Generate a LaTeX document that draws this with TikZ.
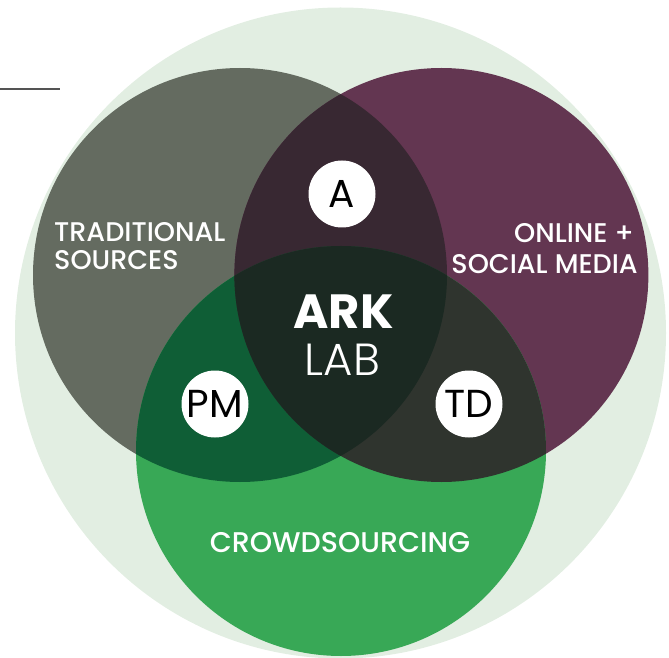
\documentclass[tikz,border=0pt]{standalone}
\usepackage{fontspec}
\setmainfont{Poppins}
\newfontfamily\srcfont{Poppins}[UprightFont=* Medium, BoldFont=* Bold]
\newfontfamily\thinfont{Poppins}[UprightFont=* Light]
\definecolor{haze}{HTML}{E2EEE2}
\definecolor{stone}{HTML}{646B60}
\definecolor{plum}{HTML}{633651}
\definecolor{leaf}{HTML}{38A856}
\definecolor{stoneplum}{HTML}{382832}
\definecolor{stoneleaf}{HTML}{0F5E36}
\definecolor{plumleaf}{HTML}{2F342E}
\definecolor{core}{HTML}{1B2922}
\tikzset{
  srctext/.style={text=white, inner sep=0pt, font=\srcfont\fontsize{27}{27}\selectfont},
  badge/.style={circle, fill=white, minimum size=67pt, inner sep=0pt, font=\fontsize{39}{39}\selectfont}
}
\def\trad{(240,382) circle (207)}
\def\online{(441.4,382) circle (207)}
\def\crowd{(341,206) circle (205)}
\begin{document}
\begin{tikzpicture}[x=1pt,y=1pt]
    \useasboundingbox (0,0) rectangle (669,657);
    \clip (0,0) rectangle (669,657);
    \fill[haze] (340.5,324) circle (325.5);
    \draw[line width=2pt, black!67] (0,568) -- (60,568);
    % the three sources and their overlaps
    \fill[stone] \trad;
    \fill[plum] \online;
    \fill[leaf] \crowd;
    \begin{scope} \clip \trad; \fill[stoneplum] \online; \end{scope}
    \begin{scope} \clip \trad; \fill[stoneleaf] \crowd; \end{scope}
    \begin{scope} \clip \online; \fill[plumleaf] \crowd; \end{scope}
    \begin{scope} \clip \trad; \clip \online; \fill[core] \crowd; \end{scope}
    % labels
    \node[srctext, anchor=base west] (trad1) at (54,415) {TRADITIONAL};
    \node[srctext, anchor=base west] (trad2) at (54,387) {SOURCES};
    \node[srctext, anchor=base east] (online1) at (634,414) {ONLINE +};
    \node[srctext, anchor=base east] (online2) at (638,384) {SOCIAL MEDIA};
    \node[srctext, anchor=base, font=\srcfont\fontsize{28.5}{28.5}\selectfont] (crowd) at (340,105) {CROWDSOURCING};
    \node[text=white, inner sep=0pt, anchor=base, font=\srcfont\fontsize{48}{48}\selectfont\bfseries] (ark) at (343.5,329) {ARK};
    \node[text=white, inner sep=0pt, anchor=base, font=\thinfont\fontsize{45}{45}\selectfont] (lab) at (342.5,282) {LAB};
    \node[badge] (a) at (342,463) {A};
    \node[badge] (pm) at (215,253) {PM};
    \node[badge] (td) at (469,253) {TD};
\end{tikzpicture}
\end{document}
